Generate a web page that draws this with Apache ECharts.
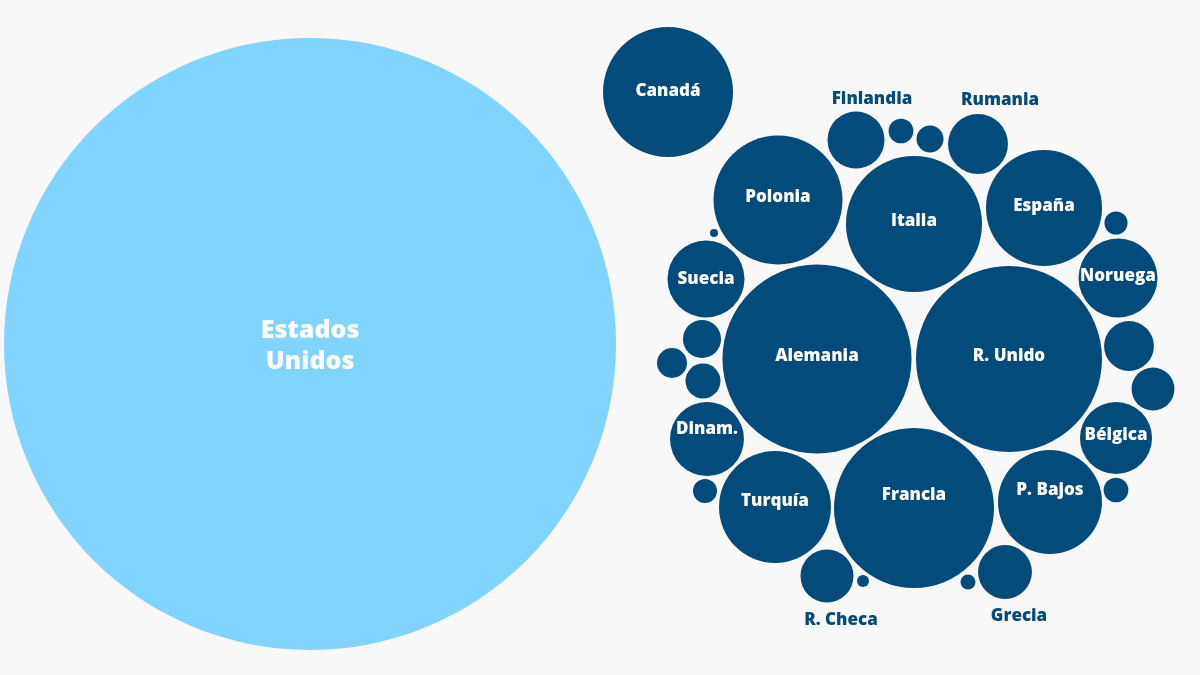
<!DOCTYPE html>
<html>
<head>
<meta charset="utf-8">
<title>Gasto en defensa OTAN</title>
<script src="https://cdn.jsdelivr.net/npm/echarts@6/dist/echarts.min.js"></script>
<style>
  html, body { margin: 0; padding: 0; background: #f8f8f8; }
  #chart { width: 1200px; height: 675px; }
</style>
</head>
<body>
<div id="chart"></div>
<script>
const countries = ['Estados Unidos', 'Canadá', 'Polonia', 'Italia', 'España', 'Alemania', 'R. Unido',
    'Francia', 'Turquía', 'P. Bajos', 'Noruega', 'Bélgica', 'Suecia', 'Dinam.', 'Finlandia', 'Rumania',
    'Grecia', 'R. Checa', 'Portugal', 'Hungría', 'Eslovaquia', 'Lituania', 'Bulgaria', 'Croacia',
    'Letonia', 'Estonia', 'Eslovenia', 'Luxemburgo', 'Albania', 'Macedonia del N.', 'Montenegro'];
const spending = [980, 44.2, 43.5, 48.4, 35.2, 93.5, 90.5,
    67.0, 32.8, 28.3, 16.3, 13.6, 15.5, 14.3, 8.5, 9.4,
    7.6, 7.35, 6.5, 4.8, 3.8, 3.2, 2.35, 1.9,
    1.6, 1.6, 1.4, 0.59, 1.5, 0.38, 0.17];
// posición de cada burbuja en el empaquetado (unidades del plano del gráfico)
const layoutX = [310, 668, 778, 914, 1044, 817, 1009,
    914, 775, 1050, 1118, 1116, 706, 707, 856, 978,
    1005, 827, 1129, 1153, 702, 703, 672, 930,
    901, 1116, 1116, 968, 705, 863, 714];
const layoutY = [344, 92, 200, 224, 208, 359, 359,
    508, 507, 502, 278, 438, 279, 439, 140, 144,
    572, 576, 346, 389, 339, 381, 363, 139,
    131, 490, 223, 582, 491, 581, 233];
// etiquetas visibles (vacío = sin etiqueta)
const labels = ['Estados\nUnidos', 'Canadá', 'Polonia', 'Italia', 'España', 'Alemania', 'R. Unido',
    'Francia', 'Turquía', 'P. Bajos', 'Noruega', 'Bélgica', 'Suecia', 'Dinam.', 'Finlandia', 'Rumania',
    'Grecia', 'R. Checa', '', '', '', '', '', '',
    '', '', '', '', '', '', ''];

const DARK = '#024b7a';
const LIGHT = '#80d4fe';
const PX_PER_SQRT = 9.775; // radio = k * raiz(gasto)

// ajustes de etiqueta (desplazamiento vertical / etiquetas fuera de la burbuja)
const labelShift = {
    'Canadá': -1, 'Polonia': -3, 'Italia': -3, 'España': -2, 'Alemania': -3, 'R. Unido': -3,
    'Francia': -13, 'Turquía': -6, 'P. Bajos': -12, 'Noruega': -2, 'Bélgica': -3, 'Suecia': 0, 'Dinam.': -10
};
const outsideLabel = {
    'Finlandia': [16, -41], 'Rumania': [22, -44], 'Grecia': [14, 44], 'R. Checa': [14, 44]
};

let data = [];
for (let i = 0; i < countries.length; i++) {
    let item = {
        name: countries[i],
        value: [layoutX[i], layoutY[i], spending[i]],
        itemStyle: {color: i === 0 ? LIGHT : DARK, opacity: 1},
        label: {show: labels[i] !== '', formatter: labels[i]}
    };
    if (i === 0) {
        item.label.fontSize = 25;
        item.label.lineHeight = 31;
        item.label.offset = [0, 2];
    } else if (outsideLabel[countries[i]]) {
        item.label.color = DARK;
        item.label.offset = outsideLabel[countries[i]];
    } else if (labelShift[countries[i]] !== undefined) {
        item.label.offset = [0, labelShift[countries[i]]];
    }
    data.push(item);
}

let chart = echarts.init(document.getElementById('chart'));
chart.setOption({
    backgroundColor: '#f8f8f8',
    animation: false,
    tooltip: {
        formatter: function (p) {
            return p.name + ': ' + p.value[2] + ' mil M$';
        }
    },
    grid: {left: 0, right: 0, top: 0, bottom: 0},
    xAxis: {type: 'value', min: 0, max: 1200, show: false},
    yAxis: {type: 'value', min: 0, max: 675, inverse: true, show: false},
    series: [{
        type: 'scatter',
        symbol: 'circle',
        symbolSize: function (val) {
            return 2 * PX_PER_SQRT * Math.sqrt(val[2]);
        },
        itemStyle: {opacity: 1},
        label: {
            show: true,
            position: 'inside',
            color: '#ffffff',
            fontFamily: '"Open Sans"',
            fontWeight: 800,
            fontSize: 17
        },
        emphasis: {scale: false},
        data: data
    }]
});
</script>
</body>
</html>
